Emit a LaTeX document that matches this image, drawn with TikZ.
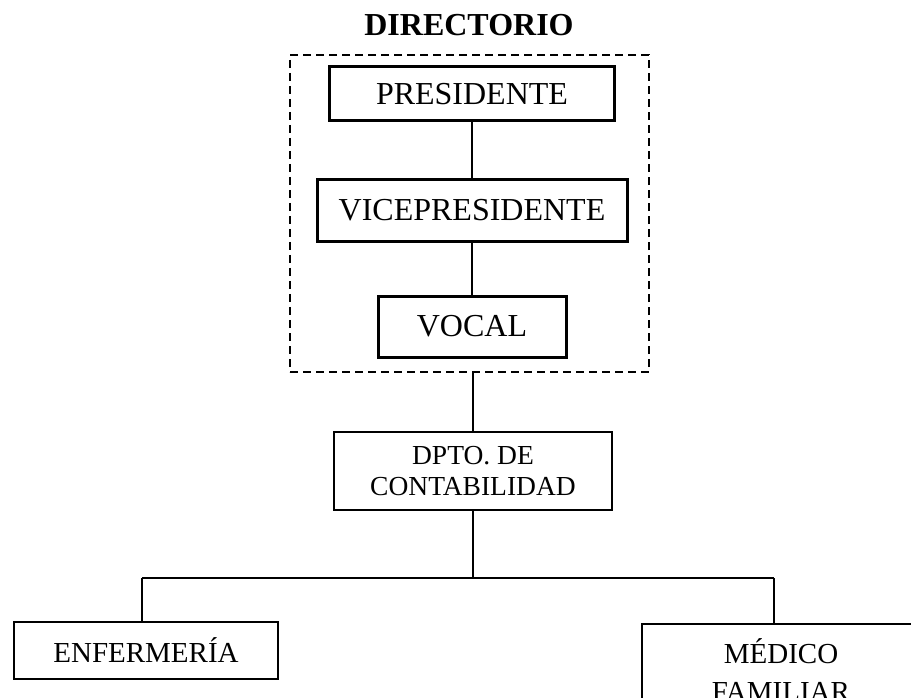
\documentclass[tikz,border=0pt]{standalone}
\usepackage{fontspec}
\setmainfont{Liberation Serif}
\usepackage{tikz}
\tikzset{cargo/.style={draw, line width=3pt, inner sep=0pt, font=\fontsize{32}{38}\selectfont},
 depto/.style={draw, line width=2pt, inner sep=0pt, align=center, font=\fontsize{29}{38}\selectfont},
 enlace/.style={draw, line width=1.8pt},
 marco/.style={draw, line width=2.6pt, dash pattern=on 8pt off 5pt, inner sep=0pt},
 }

\begin{document}
\begin{tikzpicture}[x=1pt, y=-1pt]
        \useasboundingbox (0, 0) rectangle (911, 698);
        \clip (0, 0) rectangle (911, 698);

        \node (titulo) at (469, 25) {\fontsize{32}{38}\selectfont\bfseries DIRECTORIO};
        \node[marco, minimum width=359pt, minimum height=317pt] (directorio) at (469.5, 213.5) {};

        \node[cargo, minimum width=285pt, minimum height=54pt] (presidente) at (472, 94) {PRESIDENTE};
        \node[cargo, minimum width=310pt, minimum height=61pt] (vice) at (472, 210.5) {VICEPRESIDENTE};
        \node[cargo, minimum width=188pt, minimum height=61pt] (vocal) at (472, 326.5) {VOCAL};

        \draw[enlace] (presidente) -- (vice);
        \draw[enlace] (vice) -- (vocal);

        \node[depto, font=\fontsize{27.5}{31}\selectfont, minimum width=278pt, minimum height=78pt] (dpto) at (473, 471) {DPTO. DE\\CONTABILIDAD};
        \draw[enlace] (directorio.south -| dpto.north) -- (dpto.north);

        \node[depto, minimum width=264pt, minimum height=57pt] (enfermeria) at (146, 650.5) {ENFERMER\'IA};
        \node[depto, minimum width=278pt, minimum height=92pt] (medico) at (781, 670) {M\'EDICO\\FAMILIAR};

        \coordinate (bus) at (473, 578);
        \coordinate (izq) at (142, 578);
        \coordinate (der) at (774, 578);
        \draw[enlace] (dpto.south) -- (bus);
        \draw[enlace] (izq) -- (der);
        \draw[enlace] (izq) -- (izq |- enfermeria.north);
        \draw[enlace] (der) -- (der |- medico.north);
    \end{tikzpicture}
\end{document}
